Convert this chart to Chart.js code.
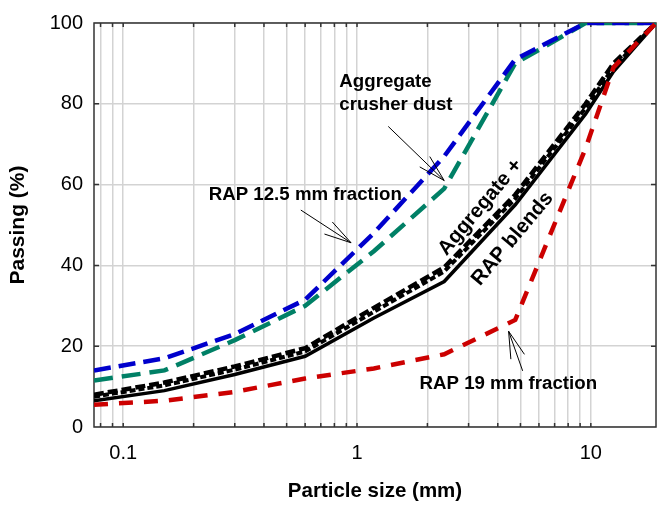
<!DOCTYPE html>
<html>
<head>
<meta charset="utf-8">
<script src="https://cdn.jsdelivr.net/npm/chart.js@4.4.1/dist/chart.umd.min.js"></script>
<style>
  html, body { margin: 0; padding: 0; background: #fff; }
  #wrap { width: 657px; height: 506px; }
</style>
</head>
<body>
<div id="wrap"><canvas id="grad"></canvas></div>
<script>
// sieve sizes (mm) and passing (%)
const sizes = [0.075, 0.15, 0.3, 0.6, 1.18, 2.36, 4.75, 9.5, 12.5, 19];
const rap125 = [14, 17, 23, 31.5, 48, 67, 91, 100, 100, 100];
const crusherDust = [11.5, 14, 21.5, 30, 43.5, 59, 90, 100, 100, 100];
const rap19 = [5.5, 6.5, 8.7, 12, 14.5, 18, 26.5, 69, 89, 100];
const blendA = [6.5, 9, 13, 17.5, 27, 36, 55, 77.5, 88, 100];
const blendB = [7.5, 10.3, 14.2, 18.7, 28.5, 38.5, 56.5, 79, 89, 100];
const blendC = [8, 11, 15, 19.5, 29.5, 39.5, 57.5, 80, 90, 100];

const gridX = [0.08, 0.09, 0.1, 0.2, 0.3, 0.4, 0.5, 0.6, 0.7, 0.8, 0.9,
               1, 2, 3, 4, 5, 6, 7, 8, 9, 10];
const labelX = [0.1, 1, 10];
const FONT = "'Liberation Sans', Arial, sans-serif";

function pts(vals) { return sizes.map((s, i) => ({ x: s, y: vals[i] })); }

function line(label, vals, color, width, dash) {
    return { label: label, data: pts(vals), borderColor: color, borderWidth: width,
             borderDash: dash, pointRadius: 0, tension: 0, fill: false };
}

// notes in data coordinates
const notes = [
    { text: ['Aggregate', 'crusher dust'], x: 0.84, y: 85.5 },
    { text: ['RAP 12.5 mm fraction'], x: 0.232, y: 57.4 },
    { text: ['RAP 19 mm fraction'], x: 1.85, y: 10.7 }
];
const arrows = [
    { from: [1.36, 74.4], to: [2.36, 61] },
    { from: [0.575, 53.7], to: [0.943, 45.6] },
    { from: [5.11, 13.9], to: [4.45, 23.7] }
];
const slanted = [
    { text: 'Aggregate +', x: 3.37, y: 54.4 },
    { text: 'RAP blends', x: 4.63, y: 46.6 }
];

const frame = {
    id: 'frame',
    beforeDatasetsDraw(chart) {
        const { ctx, chartArea: a, scales } = chart;
        ctx.save();
        ctx.strokeStyle = '#333';
        ctx.lineWidth = 1.5;
        ctx.strokeRect(a.left, a.top, a.right - a.left, a.bottom - a.top);
        ctx.beginPath();
        gridX.forEach(v => {
            const px = scales.x.getPixelForValue(v);
            ctx.moveTo(px, a.bottom); ctx.lineTo(px, a.bottom - 4);
            ctx.moveTo(px, a.top); ctx.lineTo(px, a.top + 4);
        });
        [20, 40, 60, 80].forEach(v => {
            const py = scales.y.getPixelForValue(v);
            ctx.moveTo(a.left, py); ctx.lineTo(a.left + 5, py);
            ctx.moveTo(a.right, py); ctx.lineTo(a.right - 5, py);
        });
        ctx.stroke();
        ctx.restore();
    },
    afterDatasetsDraw(chart) {
        const { ctx, scales } = chart;
        const X = v => scales.x.getPixelForValue(v);
        const Y = v => scales.y.getPixelForValue(v);
        ctx.save();
        ctx.fillStyle = '#000';
        ctx.font = 'bold 18.7px ' + FONT;
        ctx.textBaseline = 'middle';
        ctx.textAlign = 'left';
        notes.forEach(n => {
            n.text.forEach((t, i) => ctx.fillText(t, X(n.x), Y(n.y) + i * 23));
        });
        ctx.strokeStyle = '#000';
        ctx.lineWidth = 1;
        arrows.forEach(ar => {
            const x0 = X(ar.from[0]), y0 = Y(ar.from[1]);
            const x1 = X(ar.to[0]), y1 = Y(ar.to[1]);
            const ang = Math.atan2(y0 - y1, x0 - x1);
            ctx.beginPath();
            ctx.moveTo(x0, y0); ctx.lineTo(x1, y1);
            [-0.26, 0.26].forEach(d => {
                ctx.moveTo(x1, y1);
                ctx.lineTo(x1 + 28 * Math.cos(ang + d), y1 + 28 * Math.sin(ang + d));
            });
            ctx.stroke();
        });
        ctx.font = 'bold 20.5px ' + FONT;
        ctx.textAlign = 'center';
        slanted.forEach(s => {
            ctx.save();
            ctx.translate(X(s.x), Y(s.y));
            ctx.rotate(-50 * Math.PI / 180);
            ctx.fillText(s.text, 0, 0);
            ctx.restore();
        });
        ctx.restore();
    }
};

new Chart(document.getElementById('grad'), {
    type: 'line',
    data: {
        datasets: [
            line('RAP 19 mm fraction', rap19, '#cc0000', 4.5, [14, 11]),
            line('RAP 12.5 mm fraction', rap125, '#0000cc', 4.5, [17, 8]),
            line('Aggregate crusher dust', crusherDust, '#008066', 4.5, [19, 9]),
            line('Blend C', blendC, '#000', 4.5, [10, 4]),
            line('Blend B', blendB, '#000', 4, [6, 3]),
            line('Blend A', blendA, '#000', 3.5, [])
        ]
    },
    plugins: [frame],
    options: {
        responsive: true,
        maintainAspectRatio: false,
        animation: false,
        layout: { padding: { top: 17, right: 1, left: 0, bottom: 0 } },
        plugins: { legend: { display: false }, tooltip: { enabled: false } },
        scales: {
            x: {
                type: 'logarithmic', min: 0.075, max: 19,
                afterBuildTicks: s => { s.ticks = gridX.map(v => ({ value: v })); },
                afterFit: s => { s.height = 79; },
                grid: { color: '#d3d3d3', lineWidth: 1.5, drawTicks: false },
                border: { display: false },
                ticks: {
                    autoSkip: false, maxRotation: 0, padding: 14,
                    color: '#000', font: { family: FONT, size: 20 },
                    callback: v => labelX.includes(v) ? String(v) : ''
                },
                title: { display: true, text: 'Particle size (mm)', color: '#000',
                         font: { family: FONT, size: 20.5, weight: 'bold' },
                         padding: { top: 0, bottom: 2 } }
            },
            y: {
                min: 0, max: 100,
                afterFit: s => { s.width = 94; },
                grid: { color: '#d3d3d3', lineWidth: 1.5, drawTicks: false },
                border: { display: false },
                ticks: { stepSize: 20, padding: 11, color: '#000',
                         font: { family: FONT, size: 20 } },
                title: { display: true, text: 'Passing (%)', color: '#000',
                         font: { family: FONT, size: 21, weight: 'bold' },
                         padding: { top: 6, bottom: 0 } }
            }
        }
    }
});
</script>
</body>
</html>
